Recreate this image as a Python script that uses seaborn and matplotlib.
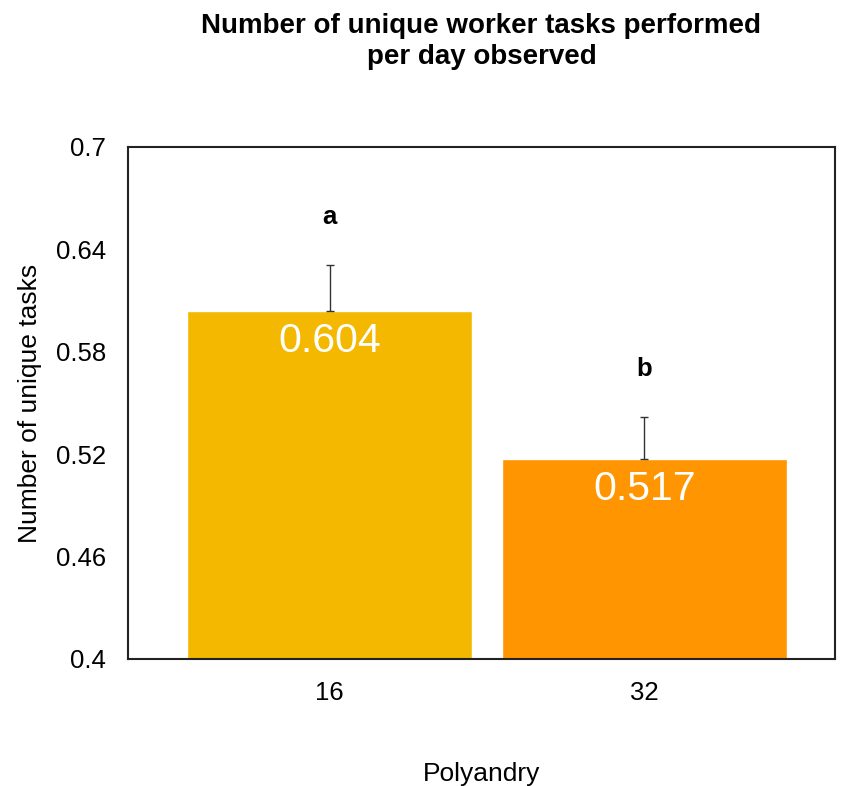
import matplotlib
import pandas as pd

matplotlib.use("Agg")
import matplotlib.pyplot as plt
import seaborn as sns

# Data
polyandry = ["16", "32"]
unique_tasks = [0.604, 0.517]
upper_errors = [0.027, 0.025]
group_letters = ["a", "b"]
bar_colors = ["#F5B800", "#FF9500"]
y_ticks = [0.4, 0.46, 0.52, 0.58, 0.64, 0.7]


def main():
    sns.set_theme(style="white")
    plt.rcParams["font.family"] = ["Liberation Sans", "DejaVu Sans"]
    plt.rcParams["text.color"] = "black"
    plt.rcParams["axes.labelcolor"] = "black"
    plt.rcParams["xtick.color"] = "black"
    plt.rcParams["ytick.color"] = "black"

    df = pd.DataFrame({"Polyandry": polyandry, "Tasks": unique_tasks})

    fig = plt.figure(figsize=(8.45, 7.86), dpi=100)
    ax = fig.add_axes([0.1515, 0.1616, 0.8365, 0.6514])

    sns.barplot(
        data=df,
        x="Polyandry",
        y="Tasks",
        hue="Polyandry",
        palette=bar_colors,
        width=0.905,
        errorbar=None,
        legend=False,
        saturation=1,
        ax=ax,
    )

    # one-sided (upper) error bars
    xs = list(range(len(polyandry)))
    ax.errorbar(
        xs,
        unique_tasks,
        yerr=[[0] * len(upper_errors), upper_errors],
        fmt="none",
        ecolor="#333333",
        elinewidth=1,
        capsize=3,
        capthick=1,
    )

    for x, val, err, letter in zip(xs, unique_tasks, upper_errors, group_letters):
        ax.text(x, val - 0.0175, f"{val:.3f}", ha="center", va="center",
                color="white", fontsize=29.5)
        ax.text(x, val + err + 0.028, letter, ha="center", va="center",
                fontsize=18.5, fontweight="bold")

    ax.set_xlim(-0.64, 1.605)
    ax.set_ylim(0.4, 0.7)
    ax.set_yticks(y_ticks)
    ax.set_yticklabels([f"{t:g}" for t in y_ticks])
    ax.tick_params(axis="y", length=0, labelsize=18.5, pad=16)
    ax.tick_params(axis="x", length=0, labelsize=18.5, pad=16)

    for spine in ax.spines.values():
        spine.set_visible(True)
        spine.set_color("#222222")
        spine.set_linewidth(1.5)

    ax.set_xlabel("Polyandry", fontsize=19, labelpad=41)
    ax.set_ylabel("Number of unique tasks", fontsize=19, labelpad=10)
    ax.set_title("Number of unique worker tasks performed\nper day observed",
                 fontsize=20, fontweight="bold", pad=60, linespacing=1.25)

    fig.savefig("out.png", dpi=100, facecolor="white")
    plt.close(fig)


if __name__ == "__main__":
    main()
